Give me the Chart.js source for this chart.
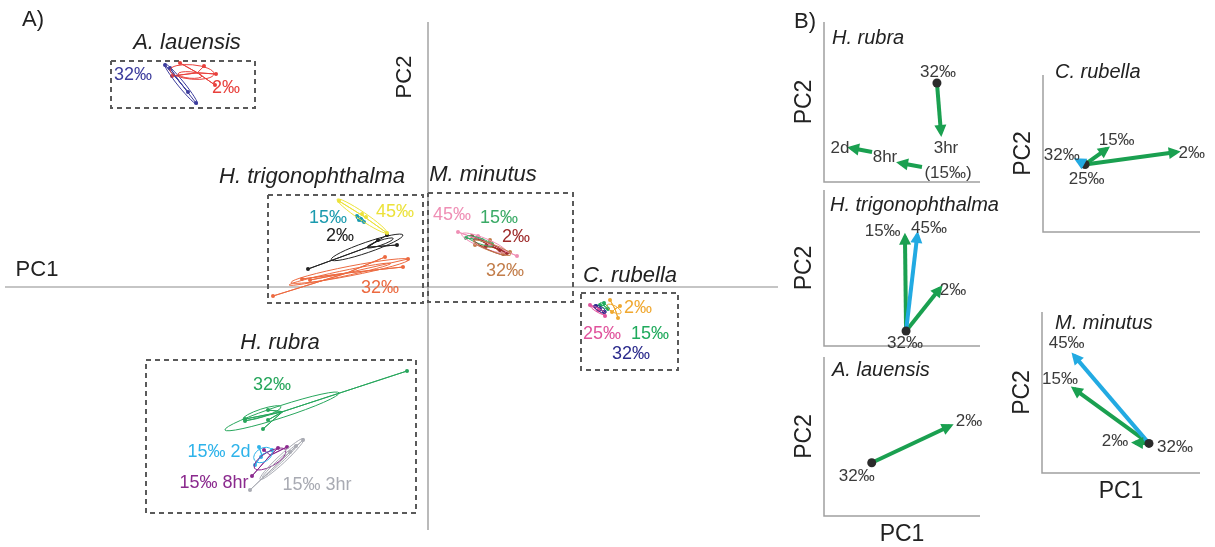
<!DOCTYPE html>
<html>
<head>
<meta charset="utf-8">
<script src="https://cdn.jsdelivr.net/npm/chart.js@4.4.1/dist/chart.umd.min.js"></script>
<style>
  html, body { margin: 0; padding: 0; background: #fff; }
  #fig { position: relative; width: 1215px; height: 547px; }
  #fig canvas { position: absolute; left: 0; top: 0; }
</style>
</head>
<body>
<div id="fig">
  <canvas id="panelA" width="1215" height="547"></canvas>
  <canvas id="bRubra" width="1215" height="547"></canvas>
  <canvas id="bTrig" width="1215" height="547"></canvas>
  <canvas id="bLau" width="1215" height="547"></canvas>
  <canvas id="bCrub" width="1215" height="547"></canvas>
  <canvas id="bMmin" width="1215" height="547"></canvas>
</div>
<script>
// ---------- Panel A: PCA scores (PC1, PC2) ----------
const pc1Range = [-10.575, 8.75];
const pc2Range = [-6.075, 6.625];

// A. lauensis
const alau32 = [[-6.575, 5.55], [-6.45, 5.475], [-6.0, 4.875], [-5.8, 4.6]];
const alau2 = [[-6.2, 5.6], [-5.3, 5.325], [-5.325, 5.05], [-6.4, 5.275], [-5.6, 5.525]];
// H. trigonophthalma
const htri45 = [[-2.225, 2.15], [-1.65, 1.825], [-1.025, 1.35], [-1.55, 1.75]];
const htri15 = [[-1.775, 1.775], [-1.675, 1.7], [-1.6, 1.625], [-1.725, 1.675]];
const htri2 = [[-3.0, 0.45], [-1.25, 1.175], [-0.775, 1.05], [-1.025, 1.3]];
const htri32 = [[-3.875, -0.225], [-3.15, 0.2], [-2.95, 0.175], [-1.075, 0.75], [-0.625, 0.5], [-0.5, 0.7]];
// M. minutus
const mmin45 = [[0.75, 1.375], [2.225, 0.775], [1.25, 1.275], [1.55, 1.075]];
const mmin15 = [[0.95, 1.225], [1.35, 1.175], [1.6, 1.075], [1.25, 1.25]];
const mmin2 = [[1.1, 1.275], [1.8, 0.925], [1.975, 0.85], [1.45, 1.025]];
const mmin32 = [[1.175, 1.05], [1.875, 0.825], [2.05, 0.875], [1.55, 1.175]];
// C. rubella
const crub2 = [[4.55, -0.325], [4.75, -0.775], [4.8, -0.475], [4.6, -0.625]];
const crub25 = [[4.05, -0.45], [4.25, -0.575], [4.425, -0.725]];
const crub15 = [[4.4, -0.4], [4.5, -0.55], [4.3, -0.45]];
const crub32 = [[4.2, -0.475], [4.4, -0.625], [4.3, -0.55]];
// H. rubra
const hrub32 = [[-0.525, -2.1], [-4.575, -3.3], [-4.0, -3.075], [-4.0, -3.325], [-4.125, -3.55], [-4.575, -3.35]];
const hrub2d = [[-4.225, -4.0], [-3.9, -4.075], [-4.325, -4.45], [-4.175, -4.25]];
const hrub8hr = [[-4.4, -4.725], [-3.525, -4.0], [-3.75, -4.025], [-4.1, -4.075]];
const hrub3hr = [[-4.45, -5.075], [-3.125, -3.825], [-3.3, -3.975], [-3.45, -4.125]];

// ellipses: [centre PC1, centre PC2, semi-axis 1, semi-axis 2, angle deg]
const alau32Ell = [[-6.175, 5.075, 0.65, 0.08, -51]];
const alau2Ell = [[-5.9, 5.375, 0.55, 0.18, -5], [-5.95, 5.3, 0.3, 0.08, -5]];
const htri45Ell = [[-1.65, 1.775, 0.75, 0.1, -34]];
const htri15Ell = [[-1.7, 1.7, 0.1, 0.05, -30]];
const htri2Ell = [[-1.525, 0.99, 0.95, 0.13, 19], [-1.2, 1.1, 0.35, 0.06, 19]];
const htri32Ell = [[-1.95, 0.4, 1.5, 0.12, 11], [-2.2, 0.32, 1.3, 0.07, 12]];
const mmin45Ell = [[1.4, 1.1, 0.6, 0.12, -22]];
const mmin15Ell = [[1.3, 1.15, 0.35, 0.07, -20]];
const mmin2Ell = [[1.55, 1.0, 0.45, 0.08, -25]];
const mmin32Ell = [[1.6, 0.98, 0.5, 0.09, -20]];
const crub2Ell = [[4.65, -0.55, 0.2, 0.08, -30]];
const crub25Ell = [[4.25, -0.58, 0.22, 0.05, -30]];
const crub15Ell = [[4.4, -0.47, 0.12, 0.05, -30]];
const crub32Ell = [[4.3, -0.55, 0.18, 0.06, -30]];
const hrub32Ell = [[-3.65, -3.11, 1.5, 0.15, 18], [-4.15, -3.15, 0.5, 0.1, 18]];
const hrub2dEll = [[-4.125, -4.2, 0.25, 0.17, 30]];
const hrub8hrEll = [[-3.95, -4.3, 0.45, 0.18, 30]];
const hrub3hrEll = [[-3.65, -4.3, 0.75, 0.1, 43], [-3.7, -4.35, 0.6, 0.05, 43]];

// group labels [text, PC1, PC2]
const alau32Lab = ['32‰', -7.375, 5.3];
const alau2Lab = ['2‰', -5.05, 4.975];
const htri45Lab = ['45‰', -0.825, 1.875];
const htri15Lab = ['15‰', -2.5, 1.725];
const htri2Lab = ['2‰', -2.2, 1.275];
const htri32Lab = ['32‰', -1.2, -0.03];
const mmin45Lab = ['45‰', 0.6, 1.8];
const mmin15Lab = ['15‰', 1.775, 1.725];
const mmin2Lab = ['2‰', 2.2, 1.25];
const mmin32Lab = ['32‰', 1.925, 0.4];
const crub2Lab = ['2‰', 5.25, -0.525];
const crub25Lab = ['25‰', 4.35, -1.175];
const crub15Lab = ['15‰', 5.55, -1.175];
const crub32Lab = ['32‰', 5.075, -1.675];
const hrub32Lab = ['32‰', -3.9, -2.45];
const hrub2dLab = ['15‰ 2d', -5.225, -4.125];
const hrub8hrLab = ['15‰ 8hr', -5.35, -4.9];
const hrub3hrLab = ['15‰ 3hr', -2.775, -4.95];

// species boxes [PC1 min, PC2 max, PC1 max, PC2 min] and names
const speciesNames = ['A. lauensis', 'H. trigonophthalma', 'M. minutus', 'C. rubella', 'H. rubra'];
const speciesBoxes = [[-7.925, 5.65, -4.325, 4.475], [-4.0, 2.3, -0.125, -0.4], [0, 2.35, 3.625, -0.375], [3.825, -0.15, 6.25, -2.075], [-7.05, -1.825, -0.3, -5.65]];
const speciesTitleAt = [[-6.025, 6.1], [-2.9, 2.75], [1.375, 2.8], [5.05, 0.275], [-3.7, -1.4]];

// ---------- Panel B: shift vectors (0-100 within each small plot) ----------
const rubraDot = [72.4, 61.9];
const rubraArrows = [[72.4, 61.9, 75, 30.6], [62.8, 9.4, 48.7, 11.9], [30.8, 18.75, 17.3, 21.25]];
const rubraKinds = ['g', 'g', 'g'];
const rubraLabels = [['32‰', 73.1, 68.75], ['3hr', 78.2, 21.25], ['(15‰)', 79.5, 5.6], ['8hr', 39.1, 15.6], ['2d', 10.3, 21.25]];

const trigDot = [52.6, 9.6];
const trigArrows = [[52.6, 9.6, 59.8, 71.2], [52.6, 9.6, 51.9, 70.1], [52.6, 9.6, 74.4, 37.0]];
const trigKinds = ['b', 'g', 'g'];
const trigLabels = [['15‰', 37.6, 73.3], ['45‰', 67.3, 75.6], ['2‰', 82.7, 35.9], ['32‰', 51.9, 1.9]];

const lauDot = [30.6, 33.5];
const lauArrows = [[30.6, 33.5, 80.8, 56.6]];
const lauKinds = ['g'];
const lauLabels = [['2‰', 92.9, 59.3], ['32‰', 21, 24.7]];

const crubDot = [26.8, 43.0];
const crubArrows = [[26.8, 43.0, 40.6, 53.0], [26.8, 43.0, 85.2, 50.9], [26.8, 43.0, 21.9, 45.7]];
const crubKinds = ['g', 'g', 'b'];
const crubLabels = [['15‰', 46.9, 58.3], ['32‰', 11.9, 48.9], ['25‰', 27.8, 33.5], ['2‰', 94.7, 49.9]];

const mminDot = [67.7, 18.4];
const mminArrows = [[67.7, 18.4, 20.3, 72.9], [67.7, 18.4, 20.3, 52.2], [67.7, 18.4, 58.9, 18.8]];
const mminKinds = ['b', 'g', 'g'];
const mminLabels = [['45‰', 15.6, 80.6], ['15‰', 11.4, 58.2], ['2‰', 46.2, 19.4], ['32‰', 84.2, 15.7]];

// ---------- styling ----------
const FONT = '"Liberation Sans", Arial, sans-serif';
const groupsA = [
  { pts: alau32, ell: alau32Ell, lab: alau32Lab, color: '#3c3c9c' },
  { pts: alau2, ell: alau2Ell, lab: alau2Lab, color: '#e8403c' },
  { pts: htri45, ell: htri45Ell, lab: htri45Lab, color: '#ece23a' },
  { pts: htri15, ell: htri15Ell, lab: htri15Lab, color: '#1a9aae' },
  { pts: htri2, ell: htri2Ell, lab: htri2Lab, color: '#222222' },
  { pts: htri32, ell: htri32Ell, lab: htri32Lab, color: '#ec6a40' },
  { pts: mmin45, ell: mmin45Ell, lab: mmin45Lab, color: '#ef8fb5' },
  { pts: mmin15, ell: mmin15Ell, lab: mmin15Lab, color: '#3aaa66' },
  { pts: mmin2, ell: mmin2Ell, lab: mmin2Lab, color: '#9e2a2a' },
  { pts: mmin32, ell: mmin32Ell, lab: mmin32Lab, color: '#c27d4a' },
  { pts: crub2, ell: crub2Ell, lab: crub2Lab, color: '#f0a830' },
  { pts: crub25, ell: crub25Ell, lab: crub25Lab, color: '#e0529c' },
  { pts: crub15, ell: crub15Ell, lab: crub15Lab, color: '#1faa5c' },
  { pts: crub32, ell: crub32Ell, lab: crub32Lab, color: '#2b2b8c' },
  { pts: hrub32, ell: hrub32Ell, lab: hrub32Lab, color: '#27a65c' },
  { pts: hrub2d, ell: hrub2dEll, lab: hrub2dLab, color: '#2eb3ea' },
  { pts: hrub8hr, ell: hrub8hrEll, lab: hrub8hrLab, color: '#8b2a8e' },
  { pts: hrub3hr, ell: hrub3hrEll, lab: hrub3hrLab, color: '#a9abb3' }
];
const arrowColor = { g: '#1aa050', b: '#22aae2' };

function centroid(pts) {
  let sx = 0, sy = 0;
  pts.forEach(p => { sx += p[0]; sy += p[1]; });
  return [sx / pts.length, sy / pts.length];
}
const xy = p => ({ x: p[0], y: p[1] });

// ---------- Panel A chart ----------
const aSets = [];
groupsA.forEach(g => {
  aSets.push({ data: g.pts.map(xy), pointRadius: 2, pointBackgroundColor: g.color, pointBorderWidth: 0, showLine: false });
  const c = centroid(g.pts);
  const spokes = [];
  g.pts.forEach(p => spokes.push(xy(c), xy(p)));
  aSets.push({ data: spokes, showLine: true, borderColor: g.color, borderWidth: 1, pointRadius: 0 });
});
speciesBoxes.forEach(b => {
  aSets.push({
    data: [xy([b[0], b[1]]), xy([b[2], b[1]]), xy([b[2], b[3]]), xy([b[0], b[3]]), xy([b[0], b[1]])],
    showLine: true, borderColor: '#5a5a5a', borderWidth: 2, borderDash: [5, 4], pointRadius: 0
  });
});
aSets.push({ data: [xy([pc1Range[0], 0]), xy([pc1Range[1], 0])], showLine: true, borderColor: '#8c8c8c', borderWidth: 1.2, pointRadius: 0 });
aSets.push({ data: [xy([0, pc2Range[0]]), xy([0, pc2Range[1]])], showLine: true, borderColor: '#8c8c8c', borderWidth: 1.2, pointRadius: 0 });

const panelAText = {
  id: 'panelAText',
  afterDatasetsDraw(chart) {
    const { ctx, scales: { x, y } } = chart;
    ctx.save();
    groupsA.forEach(g => g.ell.forEach(e => {
      const px = x.getPixelForValue(e[0]), py = y.getPixelForValue(e[1]);
      const rx = Math.abs(x.getPixelForValue(e[0] + e[2]) - px);
      const ry = Math.abs(x.getPixelForValue(e[0] + e[3]) - px);
      ctx.beginPath();
      ctx.ellipse(px, py, rx, ry, -e[4] * Math.PI / 180, 0, Math.PI * 2);
      ctx.strokeStyle = g.color;
      ctx.lineWidth = 1;
      ctx.stroke();
    }));
    ctx.textAlign = 'center';
    ctx.textBaseline = 'middle';
    ctx.font = '18px ' + FONT;
    groupsA.forEach(g => {
      ctx.fillStyle = g.color;
      ctx.fillText(g.lab[0], x.getPixelForValue(g.lab[1]), y.getPixelForValue(g.lab[2]));
    });
    ctx.fillStyle = '#222';
    ctx.font = 'italic 22px ' + FONT;
    speciesNames.forEach((n, i) => {
      ctx.fillText(n, x.getPixelForValue(speciesTitleAt[i][0]), y.getPixelForValue(speciesTitleAt[i][1]));
    });
    ctx.font = '22px ' + FONT;
    ctx.fillText('A)', 33, 20);
    ctx.fillText('B)', 805, 22);
    ctx.fillText('PC1', 37, 270);
    ctx.translate(x.getPixelForValue(0) - 23, 77);
    ctx.rotate(-Math.PI / 2);
    ctx.fillText('PC2', 0, 0);
    ctx.restore();
  }
};

new Chart(document.getElementById('panelA'), {
  type: 'scatter',
  data: { datasets: aSets },
  options: {
    responsive: false,
    animation: false,
    events: [],
    layout: { padding: { left: 5, top: 22, right: 1215 - 778, bottom: 547 - 530 }, autoPadding: false },
    plugins: { legend: { display: false }, tooltip: { enabled: false } },
    scales: {
      x: { type: 'linear', display: false, min: pc1Range[0], max: pc1Range[1] },
      y: { type: 'linear', display: false, min: pc2Range[0], max: pc2Range[1] }
    }
  },
  plugins: [panelAText]
});

// ---------- Panel B charts ----------
function miniPanel(id, area, name, titleOff, dot, arrows, kinds, labels, showPC1) {
  const sets = [{ data: [xy(dot)], pointRadius: 4.5, pointBackgroundColor: '#2b2b2b', pointBorderWidth: 0 }];
  arrows.forEach((a, i) => sets.push({
    data: [xy([a[0], a[1]]), xy([a[2], a[3]])], showLine: true,
    borderColor: arrowColor[kinds[i]], borderWidth: 4, pointRadius: 0
  }));

  const deco = {
    id: 'deco',
    beforeDatasetsDraw(chart) {
      const { ctx, chartArea: ca } = chart;
      ctx.save();
      ctx.strokeStyle = '#a0a0a0';
      ctx.lineWidth = 1.5;
      ctx.beginPath();
      ctx.moveTo(ca.left, ca.top);
      ctx.lineTo(ca.left, ca.bottom);
      ctx.lineTo(ca.right, ca.bottom);
      ctx.stroke();
      ctx.restore();
    },
    afterDatasetsDraw(chart) {
      const { ctx, chartArea: ca, scales: { x, y } } = chart;
      ctx.save();
      // arrow heads
      arrows.forEach((a, i) => {
        const x0 = x.getPixelForValue(a[0]), y0 = y.getPixelForValue(a[1]);
        const x1 = x.getPixelForValue(a[2]), y1 = y.getPixelForValue(a[3]);
        const ang = Math.atan2(y1 - y0, x1 - x0);
        ctx.save();
        ctx.translate(x1, y1);
        ctx.rotate(ang);
        ctx.beginPath();
        ctx.moveTo(4, 0);
        ctx.lineTo(-8, -6);
        ctx.lineTo(-8, 6);
        ctx.closePath();
        ctx.fillStyle = arrowColor[kinds[i]];
        ctx.fill();
        ctx.restore();
      });
      ctx.textAlign = 'center';
      ctx.textBaseline = 'middle';
      ctx.fillStyle = '#3a3a3a';
      ctx.font = '17px ' + FONT;
      labels.forEach(l => ctx.fillText(l[0], x.getPixelForValue(l[1]), y.getPixelForValue(l[2])));
      ctx.fillStyle = '#222';
      ctx.textAlign = 'left';
      ctx.font = 'italic 20px ' + FONT;
      ctx.fillText(name, ca.left + titleOff[0], ca.top + titleOff[1]);
      ctx.textAlign = 'center';
      ctx.font = '23px ' + FONT;
      if (showPC1) ctx.fillText('PC1', (ca.left + ca.right) / 2, ca.bottom + 19);
      ctx.translate(ca.left - 19, (ca.top + ca.bottom) / 2);
      ctx.rotate(-Math.PI / 2);
      ctx.fillText('PC2', 0, 0);
      ctx.restore();
    }
  };

  new Chart(document.getElementById(id), {
    type: 'scatter',
    data: { datasets: sets },
    options: {
      responsive: false,
      animation: false,
      events: [],
      layout: { padding: { left: area[0], top: area[1], right: 1215 - area[2], bottom: 547 - area[3] }, autoPadding: false },
      plugins: { legend: { display: false }, tooltip: { enabled: false } },
      scales: {
        x: { type: 'linear', display: false, min: 0, max: 100 },
        y: { type: 'linear', display: false, min: 0, max: 100 }
      }
    },
    plugins: [deco]
  });
}

miniPanel('bRubra', [824, 22, 980, 182], 'H. rubra', [8, 16], rubraDot, rubraArrows, rubraKinds, rubraLabels, false);
miniPanel('bTrig', [824, 190, 980, 346], 'H. trigonophthalma', [6, 15], trigDot, trigArrows, trigKinds, trigLabels, false);
miniPanel('bLau', [824, 357, 980, 516], 'A. lauensis', [8, 13], lauDot, lauArrows, lauKinds, lauLabels, true);
miniPanel('bCrub', [1043, 75, 1200, 232], 'C. rubella', [12, -3], crubDot, crubArrows, crubKinds, crubLabels, false);
miniPanel('bMmin', [1042, 312, 1200, 473], 'M. minutus', [13, 11], mminDot, mminArrows, mminKinds, mminLabels, true);
</script>
</body>
</html>
